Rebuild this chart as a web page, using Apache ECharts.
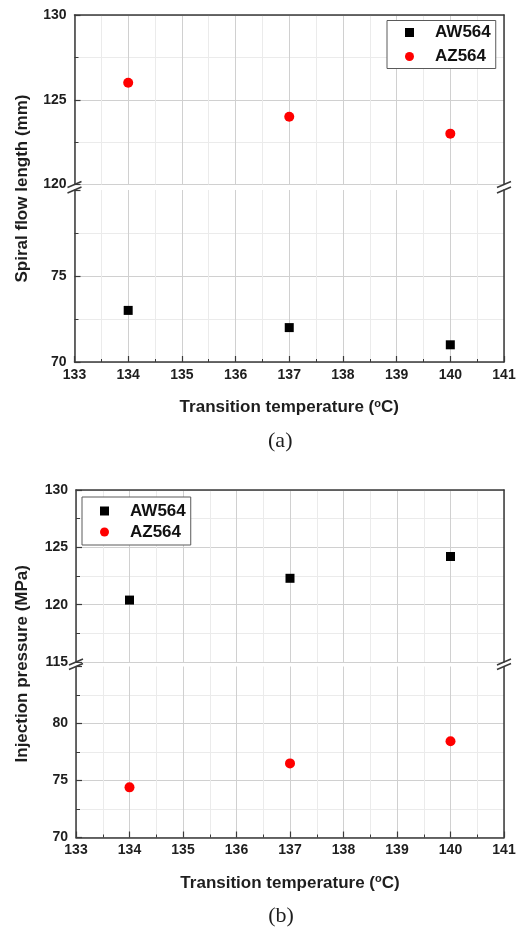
<!DOCTYPE html>
<html><head><meta charset="utf-8">
<script src="https://cdn.jsdelivr.net/npm/echarts@6/dist/echarts.min.js"></script>
<style>html,body{margin:0;padding:0;background:#fff}#c{width:528px;height:934px}</style>
</head><body><div id="c"></div>
<script>
// ---- data ----
const temps = [134, 137, 140];
const awSpiral = [73, 72, 71];
const azSpiral = [126, 124, 123];
const awPressure = [120.4, 122.3, 124.2];
const azPressure = [74.4, 76.5, 78.45];
const xMin = 133, xMax = 141, xInterval = 1;
// y ranges of the four broken-axis segments: (a) upper, (a) lower, (b) upper, (b) lower
const yRanges = [[120, 130], [70, 80], [115, 130], [70, 85]];
const yInterval = 5;
const seriesNames = ['AW564', 'AZ564'];
const xTitle = 'Transition temperature ({sup|o}C)';
const yTitles = ['Spiral flow length (mm)', 'Injection pressure (MPa)'];
const captions = ['(a)', '(b)'];

// ---- styles / layout ----
const FONT = 'Liberation Sans, Arial, sans-serif';
const AX = '#3a3a3a';
const GRID_MAJ = '#d0d0d0';
const GRID_MIN = '#ebebeb';
const grids = [
  {left: 74.5, right: 24, top: 15, height: 169.5},
  {left: 74.5, right: 24, top: 190, height: 172},
  {left: 76, right: 24, top: 490, height: 172},
  {left: 76, right: 24, top: 666.5, height: 171}
];
const pts = (xs, ys) => xs.map((x, i) => [x, ys[i]]);
const labelStyle = {fontSize: 14, fontWeight: 'bold', color: '#1e1e1e', fontFamily: FONT};

const xAxes = grids.map((g, i) => {
  const lower = i % 2 === 1;
  return {
    type: 'value', gridIndex: i, min: xMin, max: xMax, interval: xInterval,
    position: lower ? 'bottom' : 'top',
    axisLine: {show: true, onZero: false, lineStyle: {color: AX, width: 1.5}},
    axisTick: {show: lower, inside: true, length: 6, lineStyle: {color: AX, width: 1.2}},
    minorTick: {show: lower, splitNumber: 2, length: 3, lineStyle: {color: AX, width: 1}},
    axisLabel: Object.assign({show: lower, margin: 6}, labelStyle),
    splitLine: {show: true, lineStyle: {color: GRID_MAJ, width: 1}},
    minorSplitLine: {show: true, lineStyle: {color: GRID_MIN, width: 1}},
    name: lower ? xTitle : '',
    nameLocation: 'middle', nameGap: 36,
    nameTextStyle: {fontSize: 17, fontWeight: 'bold', color: '#1e1e1e', fontFamily: FONT,
      rich: {sup: {fontSize: 11, fontWeight: 'bold', color: '#1e1e1e', fontFamily: FONT, padding: [0, 0, 8, 0]}}}
  };
});

const yLeft = grids.map((g, i) => {
  const lower = i % 2 === 1;
  return {
    type: 'value', gridIndex: i, min: yRanges[i][0], max: yRanges[i][1], interval: yInterval,
    position: 'left',
    axisLine: {show: true, onZero: false, lineStyle: {color: AX, width: 1.5}},
    axisTick: {show: true, inside: true, length: 6, lineStyle: {color: AX, width: 1.2}},
    minorTick: {show: true, splitNumber: 2, length: 4, lineStyle: {color: AX, width: 1}},
    axisLabel: Object.assign({margin: 8, showMaxLabel: !lower}, labelStyle),
    splitLine: {show: true, showMaxLine: !lower, lineStyle: {color: GRID_MAJ, width: 1}},
    minorSplitLine: {show: true, lineStyle: {color: GRID_MIN, width: 1}}
  };
});
const yRight = grids.map((g, i) => ({
  type: 'value', gridIndex: i, min: yRanges[i][0], max: yRanges[i][1], interval: yInterval,
  position: 'right',
  axisLine: {show: true, onZero: false, lineStyle: {color: AX, width: 1.5}},
  axisTick: {show: false}, axisLabel: {show: false}, splitLine: {show: false}
}));

const scat = (name, xi, data) => ({
  name, type: 'scatter', xAxisIndex: xi, yAxisIndex: xi, data,
  symbol: name === 'AW564' ? 'rect' : 'circle',
  symbolSize: name === 'AW564' ? 9 : 10,
  itemStyle: {color: name === 'AW564' ? '#000000' : '#ff0000', opacity: 1},
  emphasis: {disabled: true}
});

const legendBase = {
  data: seriesNames, orient: 'vertical', itemWidth: 9, itemHeight: 9,
  borderColor: '#5a5a5a', borderWidth: 1, backgroundColor: '#ffffff', selectedMode: false,
  textStyle: {fontSize: 17, fontWeight: 'bold', fontFamily: FONT, color: '#111', lineHeight: 18, padding: [0, 0, 0, 16]}
};

const chart = echarts.init(document.getElementById('c'), null, {renderer: 'canvas'});
chart.setOption({
  animation: false,
  backgroundColor: '#ffffff',
  grid: grids,
  xAxis: xAxes,
  yAxis: yLeft.concat(yRight),
  legend: [
    Object.assign({}, legendBase, {left: 387, top: 20.5, padding: [3, 5, 3, 18], itemGap: 6}),
    Object.assign({}, legendBase, {left: 82, top: 497, padding: [5, 5, 4, 18], itemGap: 3})
  ],
  series: [
    scat('AZ564', 0, pts(temps, azSpiral)),
    scat('AW564', 1, pts(temps, awSpiral)),
    scat('AW564', 2, pts(temps, awPressure)),
    scat('AZ564', 3, pts(temps, azPressure))
  ]
});

// break marks, rotated y titles and captions, positioned from the axes
const gfx = [];
[[0, 1], [2, 3]].forEach(([u, l], k) => {
  [xMin, xMax].forEach(xv => {
    const pu = chart.convertToPixel({gridIndex: u}, [xv, yRanges[u][0]]);
    const pl = chart.convertToPixel({gridIndex: l}, [xv, yRanges[l][1]]);
    gfx.push({type: 'rect', shape: {x: pu[0] - 3, y: pu[1] + 1, width: 6, height: pl[1] - pu[1] - 2}, style: {fill: '#fff'}, z: 100});
    [pu, pl].forEach(p => gfx.push({
      type: 'line', z: 101,
      shape: {x1: p[0] - 7, y1: p[1] + 3, x2: p[0] + 7, y2: p[1] - 3},
      style: {stroke: AX, lineWidth: 1.5}
    }));
  });
  const top = chart.convertToPixel({gridIndex: u}, [xMin, yRanges[u][1]]);
  const bot = chart.convertToPixel({gridIndex: l}, [xMin, yRanges[l][0]]);
  const right = chart.convertToPixel({gridIndex: l}, [xMax, yRanges[l][0]]);
  gfx.push({
    type: 'text', x: 22, y: (top[1] + bot[1]) / 2, rotation: Math.PI / 2,
    style: {text: yTitles[k], fontSize: 17, fontWeight: 'bold', fontFamily: FONT, fill: '#1e1e1e', align: 'center', verticalAlign: 'middle'}
  });
  gfx.push({
    type: 'text', x: (bot[0] + right[0]) / 2 - 9, y: bot[1] + 79,
    style: {text: captions[k], fontSize: 22, fontFamily: 'Liberation Serif, Times New Roman, serif', fill: '#1e1e1e', align: 'center', verticalAlign: 'middle'}
  });
});
chart.setOption({graphic: gfx});
</script>
</body></html>
